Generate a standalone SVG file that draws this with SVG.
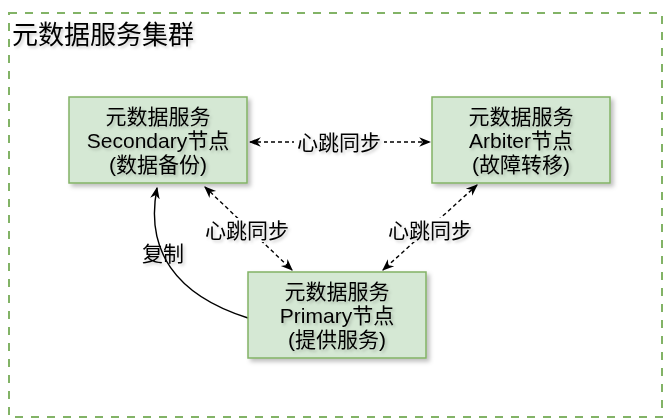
<svg xmlns="http://www.w3.org/2000/svg" width="667" height="420" viewBox="0 0 667 420">
<defs>
<filter id="sh" x="-10%" y="-10%" width="130%" height="130%">
<feDropShadow dx="3" dy="3" stdDeviation="2" flood-color="#000" flood-opacity="0.25"/>
</filter>
<filter id="tsh" x="-10%" y="-20%" width="130%" height="150%">
<feDropShadow dx="2" dy="2" stdDeviation="1.5" flood-color="#000" flood-opacity="0.2"/>
</filter>
<marker id="ah" viewBox="0 0 10 10" refX="9" refY="5" markerWidth="12" markerHeight="12" orient="auto-start-reverse" markerUnits="userSpaceOnUse">
<path d="M0,1 L10,5 L0,9 L3,5 Z" fill="#000"/>
</marker>
</defs>
<style>
.t{font-family:"Liberation Sans","Noto Sans CJK SC",sans-serif;font-size:21px;fill:#000;text-anchor:middle;filter:url(#tsh)}
.node{fill:#d5e8d4;stroke:#82b366;stroke-width:1.5;filter:url(#sh)}
.dash{fill:none;stroke:#000;stroke-width:1.4;stroke-dasharray:4 3}
.lblbg{fill:#fff}
</style>
<rect x="9" y="13" width="653" height="404" fill="none" stroke="#82b366" stroke-width="2" stroke-dasharray="8 8"/>
<text x="12" y="44" style="font-family:'Liberation Sans','Noto Sans CJK SC',sans-serif;font-size:26px;fill:#000;filter:url(#tsh)">元数据服务集群</text>
<g id="connectors">
<line class="dash" x1="250" y1="142" x2="430" y2="142" marker-start="url(#ah)" marker-end="url(#ah)"/>
<rect class="lblbg" x="294" y="130" width="90" height="24"/>
<text class="t" x="339" y="150">心跳同步</text>
<line class="dash" x1="205" y1="187" x2="292" y2="270" marker-start="url(#ah)" marker-end="url(#ah)"/>
<rect class="lblbg" x="203" y="218" width="88" height="24"/>
<text class="t" x="247" y="238">心跳同步</text>
<line class="dash" x1="477" y1="185" x2="383" y2="270" marker-start="url(#ah)" marker-end="url(#ah)"/>
<rect class="lblbg" x="386" y="218" width="88" height="24"/>
<text class="t" x="430" y="238">心跳同步</text>
<path d="M248,318 C175,295 145,250 157,188" fill="none" stroke="#000" stroke-width="1.4" marker-end="url(#ah)"/>
<text class="t" x="163" y="261">复制</text>
</g>
<g id="secondary">
<rect class="node" x="69" y="97" width="178" height="86"/>
<text class="t" x="158" y="124">元数据服务</text>
<text class="t" x="158" y="148">Secondary节点</text>
<text class="t" x="158" y="172">(数据备份)</text>
</g>
<g id="arbiter">
<rect class="node" x="432" y="97" width="178" height="86"/>
<text class="t" x="521" y="124">元数据服务</text>
<text class="t" x="521" y="148">Arbiter节点</text>
<text class="t" x="521" y="172">(故障转移)</text>
</g>
<g id="primary">
<rect class="node" x="248" y="272" width="178" height="86"/>
<text class="t" x="337" y="299">元数据服务</text>
<text class="t" x="337" y="323">Primary节点</text>
<text class="t" x="337" y="347">(提供服务)</text>
</g>
</svg>
